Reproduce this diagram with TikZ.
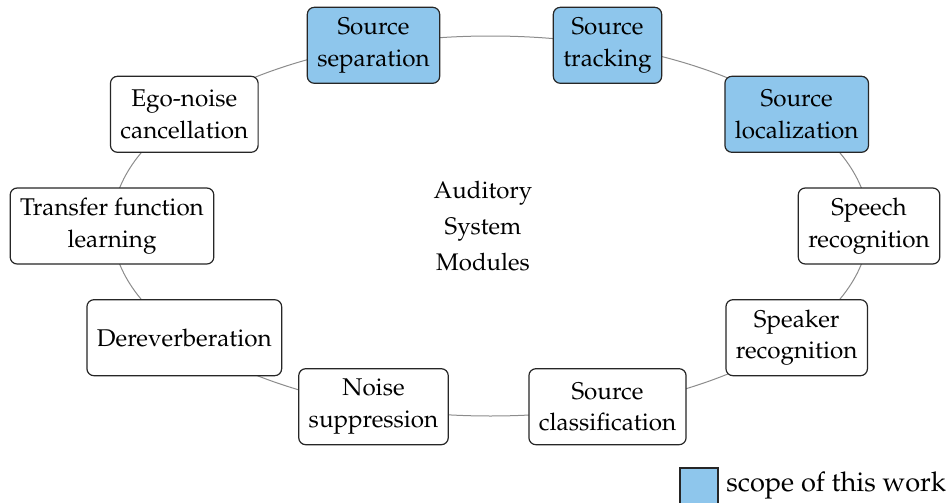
\documentclass[tikz,border=0pt]{standalone}
\usepackage[T1]{fontenc}
\usepackage{mathpazo}
\definecolor{scopeblue}{RGB}{142,198,236}
\definecolor{ringgray}{RGB}{140,140,140}
\tikzset{
  module/.style={draw=black!85, line width=0.6pt, rounded corners=3.5pt, fill=white,
    align=center, minimum height=38pt, inner xsep=5pt, inner ysep=2pt,
    font=\fontsize{12.1}{15.8}\selectfont},
  scoped/.style={module, fill=scopeblue},
  ring/.style={draw=ringgray, line width=0.5pt},
  legendtext/.style={font=\fontsize{13.6}{16}\selectfont, anchor=west, inner sep=0pt}
}
\begin{document}
\begin{tikzpicture}[x=0.5pt,y=-0.5pt]
\useasboundingbox (0,0) rectangle (948,503);
\coordinate (c) at (490.5,226);
\draw[ring] (c) ellipse [x radius=378.5, y radius=190];
\node[module] (speech) at (869,226) {Speech\\recognition};
\node[scoped] (loc) at (796.7,114.3) {Source\\localization};
\node[scoped] (track) at (607.5,45.3) {Source\\tracking};
\node[scoped] (sep) at (373.5,45.3) {Source\\separation};
\node[module] (ego) at (184.3,114.3) {Ego-noise\\cancellation};
\node[module] (tf) at (112,226) {Transfer function\\learning};
\node[module] (derev) at (184.3,337.7) {Dereverberation};
\node[module] (noise) at (373.5,406.7) {Noise\\suppression};
\node[module] (class) at (607.5,406.7) {Source\\classification};
\node[module] (speaker) at (796.7,337.7) {Speaker\\recognition};
\node[align=center, font=\fontsize{12}{18}\selectfont] (center) at (483,226) {Auditory\\System\\Modules};
\draw[draw=black!85, line width=0.6pt, fill=scopeblue] (680,468) rectangle (718,506);
\coordinate (legpos) at (726,485);
\node[legendtext] (legend) at (legpos) {scope of this work};
\end{tikzpicture}
\end{document}
